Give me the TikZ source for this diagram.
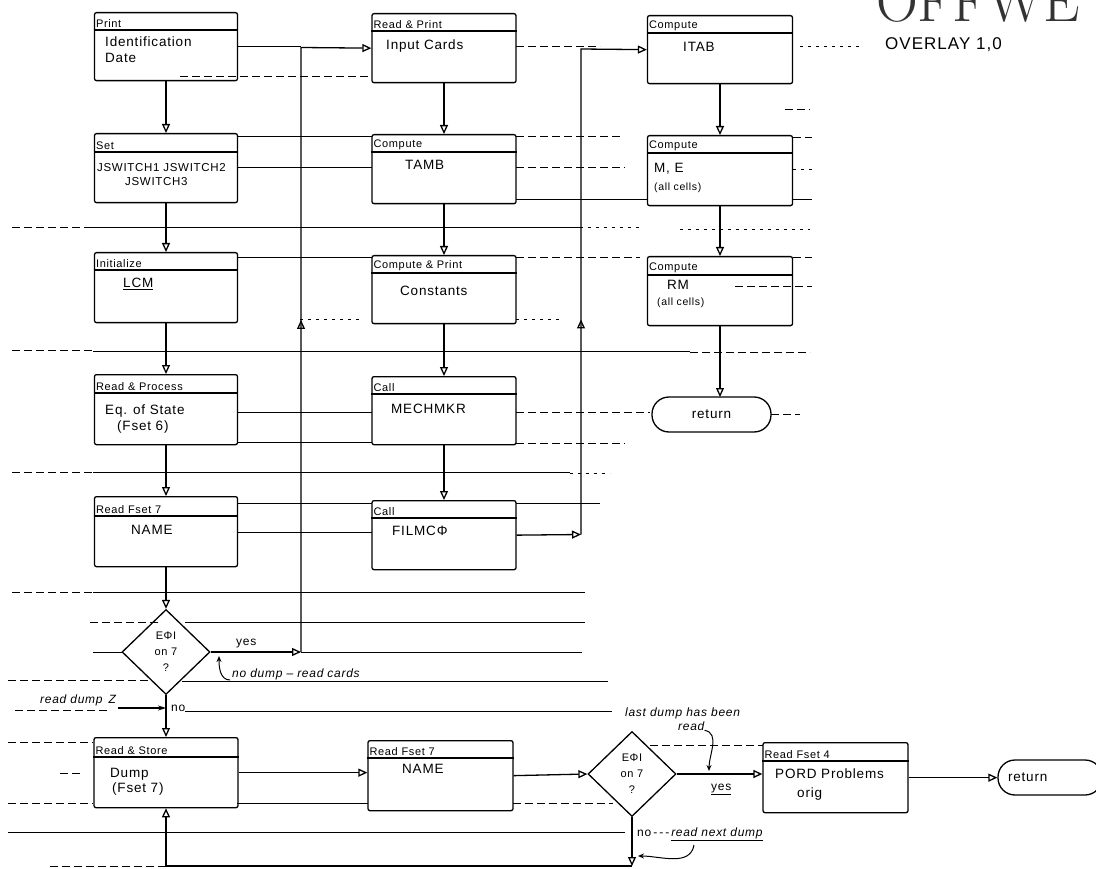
\documentclass[tikz,border=0pt]{standalone}
\usepackage{fontspec}
\setsansfont[LetterSpace=6]{Liberation Sans}
\usetikzlibrary{arrows.meta,shapes.geometric,decorations.markings,calc}
\tikzset{
  box/.style={draw, line width=1.3pt, rounded corners=2pt, inner sep=0pt},
  flow/.style={line width=1.3pt, -{Triangle[open,length=9pt,width=8pt]}},
  hd/.style={anchor=south west, inner sep=2pt, font=\sffamily\fontsize{11}{12}\selectfont},
  bd/.style={anchor=base west, inner sep=0pt, font=\sffamily\fontsize{13.5}{14}\selectfont},
  sm/.style={anchor=base west, inner sep=0pt, font=\sffamily\fontsize{10.5}{11}\selectfont},
  ann/.style={anchor=base west, inner sep=0pt, font=\sffamily\fontsize{12}{13}\selectfont},
  anni/.style={anchor=base west, inner sep=0pt, font=\sffamily\itshape\fontsize{12}{13}\selectfont},
  dec/.style={draw, diamond, line width=1.3pt, minimum width=88pt, minimum height=85pt, inner sep=0pt,
    align=center, font=\sffamily\fontsize{11}{16}\selectfont},
  term/.style={draw, line width=1.3pt, rounded corners=17pt, minimum height=35pt, inner sep=0pt,
    font=\sffamily\fontsize{13.5}{14}\selectfont},
  lead/.style={line width=1pt, -{Stealth[length=6pt,width=5pt]}},
  rs/.style={line width=1pt},
  rd/.style={line width=1pt, dash pattern=on 8pt off 4pt},
  rt/.style={line width=1pt, dash pattern=on 3pt off 5pt},
  midup/.style={postaction={decorate}, decoration={markings,
    mark=at position #1 with {\arrow{Triangle[open,length=9pt,width=8pt]}}}}
}
% name, cx, top, width, height, header height, header text
\newcommand{\mkbox}[7]{%
  \node[box, minimum width=#4pt, minimum height=#5pt, anchor=north] (#1) at (#2,#3) {};
  \coordinate (#1-hl) at ([yshift=-#6pt]#1.north west);
  \draw[line width=1.3pt] (#1-hl) -- (#1-hl -| #1.east);
  \node[hd] (#1-h) at (#1-hl) {#7};
}
\begin{document}
\begin{tikzpicture}[x=1pt,y=-1pt]
\fill[white] (0,0) rectangle (1096,869);
\useasboundingbox (0,0) rectangle (1096,869);

% background form rules
\foreach \xa/\xb/\yy/\st in {238/301/47/rs, 516/600/47/rd, 800/860/47/rt,
  180/372/77/rd, 785/810/110/rd,
  238/372/137/rs, 516/620/137/rd, 793/812/138/rd,
  238/372/168/rs, 516/625/168/rd, 793/815/170/rt,
  516/648/200/rs, 793/812/200/rs,
  12/92/228/rd, 92/580/228/rs, 580/640/228/rt, 680/810/230/rt,
  238/372/258/rs, 516/640/258/rd, 793/812/258/rd,
  735/812/287/rd, 300/360/320/rt, 516/560/320/rt,
  12/93/350/rd, 93/690/351/rs, 690/810/352/rd,
  238/372/412/rs, 516/650/412/rd, 771/800/414/rd,
  238/372/442/rs, 516/625/443/rd,
  12/93/472/rd, 93/570/472/rs, 570/610/473/rt,
  238/372/503/rs, 516/600/503/rs, 238/372/532/rs,
  12/93/592/rd, 93/585/592/rs,
  90/160/622/rd, 185/585/622/rs,
  93/122/652/rs, 301/582/652/rs,
  8/148/680/rd, 182/608/681/rs,
  15/108/710/rd, 185/612/711/rs,
  8/93/742/rd, 650/763/745/rd, 60/80/773/rd,
  8/93/803/rd, 237/368/803/rs, 513/613/803/rd,
  8/625/832/rs, 50/165/866/rd}
  {\draw[\st] (\xa,\yy) -- (\xb,\yy);}

% title
\node[anchor=base west, inner sep=0pt, font=\rmfamily\fontsize{58}{60}\selectfont, text=black!80] (title) at (876,22) {OFFWE};
\node[anchor=west, inner sep=0pt, font=\sffamily\fontsize{17}{18}\selectfont] (ovl) at (885,45) {OVERLAY 1,0};

% left column
\mkbox{L1}{166}{12}{143}{68}{18}{Print}
\node[bd] at (105,47) {Identification};
\node[bd] at (105,63) {Date};
\mkbox{L2}{166}{133}{143}{69}{19}{Set}
\node[bd, font=\sffamily\fontsize{11.5}{12}\selectfont] at (97,172) {JSWITCH1 JSWITCH2};
\node[bd, font=\sffamily\fontsize{11.5}{12}\selectfont] at (125,186) {JSWITCH3};
\mkbox{L3}{166}{252}{143}{70}{18}{Initialize}
\node[bd] at (123,288) {\underline{LCM}};
\mkbox{L4}{166}{374}{143}{70}{19}{Read \& Process}
\node[bd] at (105,414) {Eq. of State};
\node[bd] at (117,430) {(Fset 6)};
\mkbox{L5}{166}{496}{143}{70}{20}{Read Fset 7}
\node[bd] at (131,534) {NAME};
\node[dec] (D1) at (166,652) {EΦI\\on 7\\?};

% middle column
\mkbox{M1}{444}{13}{144}{69}{18}{Read \& Print}
\node[bd] at (386,50) {Input Cards};
\mkbox{M2}{444}{134}{144}{69}{18}{Compute}
\node[bd] at (405,170) {TAMB};
\mkbox{M3}{444}{255}{144}{68}{18}{Compute \& Print}
\node[bd] at (400,296) {Constants};
\mkbox{M4}{444}{376}{144}{68}{18}{Call}
\node[bd] at (391,413) {MECHMKR};
\mkbox{M5}{444}{500}{144}{69}{18}{Call}
\node[bd] at (392,535) {FILMCΦ};

% right column
\mkbox{R1}{720}{15}{145}{68}{18}{Compute}
\node[bd] at (683,52) {ITAB};
\mkbox{R2}{720}{135}{145}{70}{18}{Compute}
\node[bd] at (654,173) {M, E};
\node[sm] at (654,191) {(all cells)};
\mkbox{R3}{720}{256}{145}{69}{19}{Compute}
\node[bd] at (667,290) {RM};
\node[sm] at (657,306) {(all cells)};
\node[term, minimum width=119pt] (ret1) at (711.5,414.5) {return};

% bottom row
\mkbox{RS}{166}{737}{144}{70}{20}{Read \& Store}
\node[bd] at (110,777) {Dump};
\node[bd] at (112,792) {(Fset 7)};
\mkbox{RF7}{440.5}{740}{145}{70}{18}{Read Fset 7}
\node[bd] at (402,773) {NAME};
\node[dec] (D2) at (632,774) {EΦI\\on 7\\?};
\mkbox{RF4}{835.5}{742}{145}{70}{19}{Read Fset 4}
\node[bd] at (775,778) {PORD Problems};
\node[bd] at (797,797) {orig};
\node[term, minimum width=104pt, text width=84pt, align=left] (ret2) at (1050,777.5) {return};

% junction coordinates
\coordinate (j1) at (301,652);
\coordinate (j1t) at (301,47.5);
\coordinate (j2) at (581,534.5);
\coordinate (j2t) at (581,49);
\coordinate (jb) at (632,866);
\coordinate (r3b) at (720,325);
\coordinate (r1t) at (720,397);

% connectors
\draw[flow] (L1) -- (L2);
\draw[flow] (L2) -- (L3);
\draw[flow] (L3) -- (L4);
\draw[flow] (L4) -- (L5);
\draw[flow] (L5) -- (D1);
\draw[flow] (D1.east) -- (j1);
\draw[flow, midup=332pt] (j1) -- (j1t) -- (M1.west);
\draw[flow] (D1.south) -- (RS.north);
\draw[flow] (M1) -- (M2);
\draw[flow] (M2) -- (M3);
\draw[flow] (M3) -- (M4);
\draw[flow] (M4) -- (M5);
\draw[flow] (M5.east) -- (j2);
\draw[flow, midup=215pt] (j2) -- (j2t) -- (R1.west);
\draw[flow] (R1) -- (R2);
\draw[flow] (R2) -- (R3);
\draw[flow] (r3b) -- (r1t);
\draw[flow] (RS.east) -- (RS.east -| RF7.west);
\draw[flow] (RF7.east) -- (D2.west);
\draw[flow] (D2.east) -- (D2.east -| RF4.west);
\draw[flow] (RF4.east) -- (RF4.east -| ret2.west);
\draw[flow] (D2.south) -- (jb);
\draw[flow] (jb) -| (RS.south);

% labels and annotations
\node[ann] (yes1) at (236,645) {yes};
\node[anni] (nd) at (232,677) {no dump -- read cards};
\coordinate (h1) at (230,680);
\coordinate (h2) at (219,656);
\draw[lead] (h1) to[out=180,in=-90] (h2);
\node[ann] (no1) at (171,711) {no};
\node[anni] (rd) at (40,703) {read dump\enspace Z};
\coordinate (rda) at (118,708);
\draw[lead, -{Stealth[length=8pt,width=5pt]}, line width=1.2pt] (rda) -- (D1.south |- rda);
\node[ann] (yes2) at (711,790) {\underline{yes}};
\node[anni] (ld1) at (625,716) {last dump has been};
\node[anni] (ld2) at (678,730) {read};
\coordinate (ldt) at (709,771);
\draw[lead] (ld2.south east) to[out=-10,in=90] (ldt);
\node[ann] (no2) at (637,836) {no\,-\,-\,-\,\textit{\underline{read next dump}}};
\coordinate (nt1) at (694,845);
\coordinate (nt2) at (638,856);
\draw[lead] (nt1) to[out=-100,in=0] (nt2);
\end{tikzpicture}
\end{document}
